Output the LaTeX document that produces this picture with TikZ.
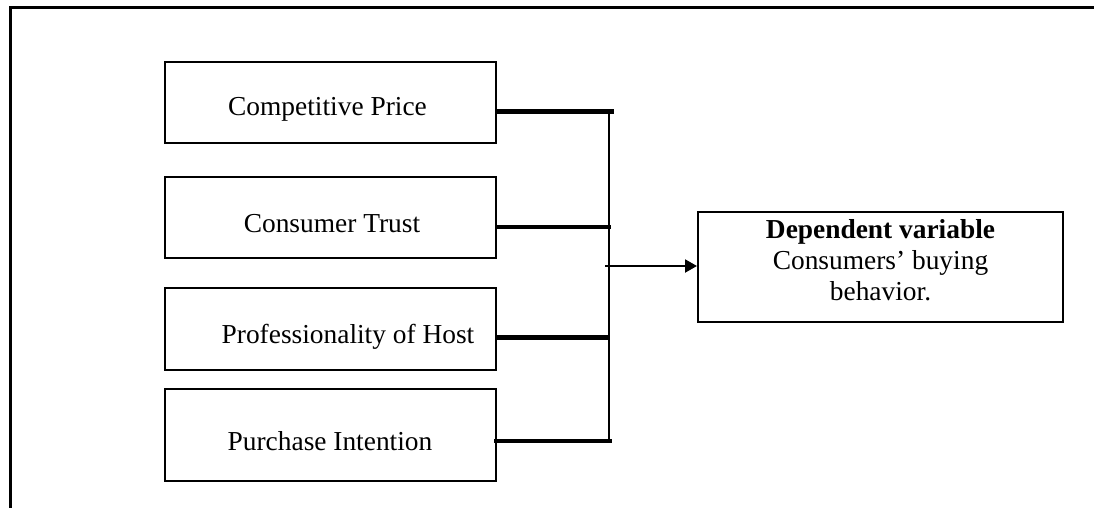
\documentclass[tikz,border=0pt]{standalone}
\usepackage{fontspec}
\setmainfont{Liberation Serif}
\usetikzlibrary{arrows.meta}
\begin{document}
\begin{tikzpicture}[x=1pt,y=-1pt,
  box/.style={draw, line width=2pt, inner sep=0pt, outer sep=0pt, minimum width=331pt},
  lbl/.style={font=\fontsize{27.4}{31}\selectfont, inner sep=0pt, anchor=base},
  thickbar/.style={line width=5pt},
  midbar/.style={line width=3.7pt},
  bus/.style={line width=2.2pt},
  frame/.style={line width=3pt}]
\useasboundingbox (0,0) rectangle (1094,508);
% outer frame (top and left only)
\coordinate (fa) at (1094,8);
\coordinate (fb) at (10.5,8);
\coordinate (fc) at (10.5,508);
\draw[frame] (fa) -- (9,8);
\draw[frame] (fb) -- (fc);
% independent variable boxes
\node[box, minimum height=81pt] (b1) at (330.5,102.5) {};
\node[box, minimum height=81pt] (b2) at (330.5,217.5) {};
\node[box, minimum height=82pt] (b3) at (330.5,329) {};
\node[box, minimum height=92pt] (b4) at (330.5,435) {};
\node[lbl] (t1) at (327.5,115.7) {Competitive Price};
\node[lbl] (t2) at (332,232) {Consumer Trust};
\node[lbl] (t3) at (348,343) {Professionality of Host};
\node[lbl] (t4) at (330,450) {Purchase Intention};
% dependent variable box
\node[draw, line width=2pt, minimum width=365pt, minimum height=110pt, inner sep=0pt] (dv) at (880.5,267) {};
\node[font=\fontsize{27.4}{31}\selectfont, align=center, inner sep=0pt, anchor=north] (dt) at (880.5,219.5)
  {\textbf{Dependent variable}\\Consumers’ buying\\behavior.};
% bus coordinates
\coordinate (j1) at (614,112);
\coordinate (j2) at (611,227);
\coordinate (j3) at (609,337);
\coordinate (j4) at (612,441);
\coordinate (vt) at (609,110);
\coordinate (vb) at (609,443);
\coordinate (a0) at (605,266);
% connectors
\draw[thickbar] (b1.east |- j1) -- (j1);
\draw[midbar] (b2.east |- j2) -- (j2);
\draw[thickbar] (b3.east |- j3) -- (j3);
\draw[midbar] ([xshift=-2pt]b4.east |- j4) -- (j4);
\draw[bus] (vt) -- (vb);
\draw[line width=2pt, -{Triangle[length=12pt,width=13pt]}] (a0) -- (a0 -| dv.west);
\end{tikzpicture}
\end{document}
